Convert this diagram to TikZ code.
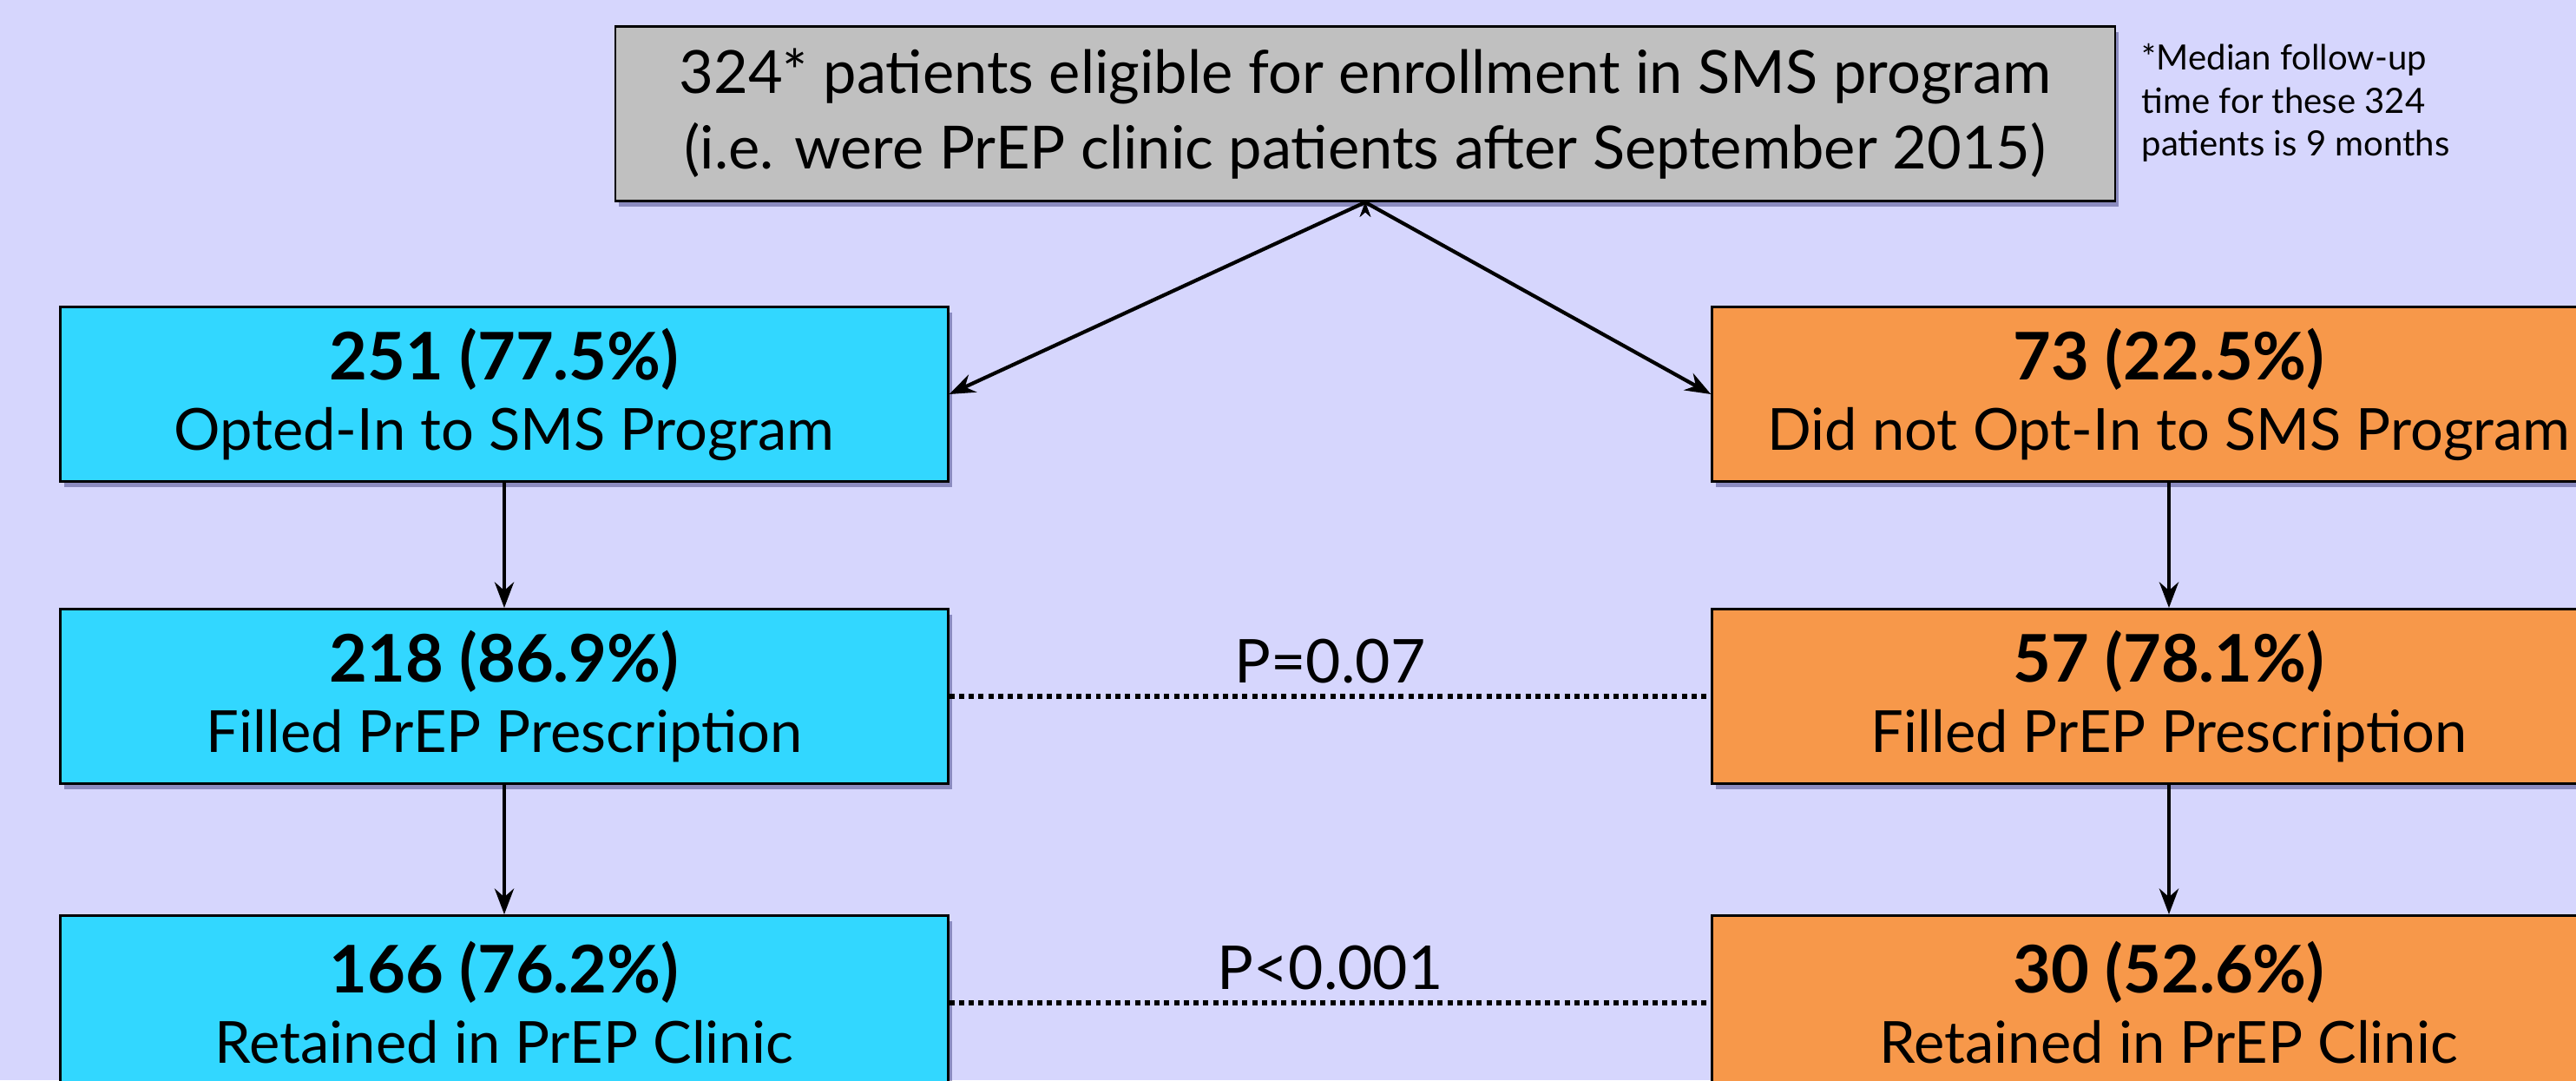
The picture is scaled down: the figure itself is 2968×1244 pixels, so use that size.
\documentclass[tikz,border=0pt]{standalone}
\usepackage{fontspec}
\setmainfont{Lato}
\usetikzlibrary{arrows.meta,positioning,shadows}
\definecolor{bglavender}{RGB}{214,214,253}
\definecolor{optcyan}{RGB}{50,215,255}
\definecolor{optorange}{RGB}{247,152,74}
\definecolor{eligray}{RGB}{192,192,192}
\newcommand{\countline}[1]{{\fontsize{21.5}{23}\selectfont\bfseries #1}}

\begin{document}
\begin{tikzpicture}[
    x=0.01cm, y=-0.01cm,
    cohort/.style={rectangle, draw, line width=0.8pt, minimum width=10.22cm, minimum height=2.01cm,
        align=center, font=\fontsize{19}{23}\selectfont,
        drop shadow={shadow xshift=1.2pt, shadow yshift=-1.8pt, fill=black!70!blue, opacity=0.35}},
    optin/.style={cohort, fill=optcyan},
    optout/.style={cohort, fill=optorange, minimum width=10.52cm},
    pvalue/.style={-, draw, line width=1.7pt, dash pattern=on 1.7pt off 1.5pt},
    ->,>=Stealth,
    every edge/.style={draw, line width=1.2pt}
]
    \fill[bglavender] (0,0) rectangle (2968,1244);
    \useasboundingbox (0,0) rectangle (2968,1244);
    \clip (0,0) rectangle (2968,1244);

    \node[cohort, fill=eligray, minimum width=17.27cm, font=\fontsize{19.5}{24.8}\selectfont] (eligible) at (1573,131)
        {324* patients eligible for enrollment in SMS program\\(i.e. were PrEP clinic patients after September 2015)};
    \node[anchor=north west, align=left, inner sep=0pt, font=\fontsize{11.4}{14}\selectfont] (note) at (2467,50)
        {*Median follow-up\\time for these 324\\patients is 9 months};

    \node[optin] (optedin) at (581,454) {\countline{251 (77.5\%)}\\Opted-In to SMS Program};
    \node[optout] (notin) at (2499,454) {\countline{73 (22.5\%)}\\Did not Opt-In to SMS Program};
    \node[optin] (filledin) at (581,802) {\countline{218 (86.9\%)}\\Filled PrEP Prescription};
    \node[optout] (fillednot) at (2499,802) {\countline{57 (78.1\%)}\\Filled PrEP Prescription};
    \node[optin] (retainin) at (581,1155) {\countline{166 (76.2\%)}\\Retained in PrEP Clinic};
    \node[optout] (retainnot) at (2499,1155) {\countline{30 (52.6\%)}\\Retained in PrEP Clinic};

    \draw (eligible.south) edge (optedin.east);
    \draw (eligible.south) edge (notin.west);
    \draw (optedin) edge (filledin);
    \draw (filledin) edge (retainin);
    \draw (notin) edge (fillednot);
    \draw (fillednot) edge (retainnot);

    \draw[pvalue] (filledin.east) -- node[above, font=\fontsize{19.8}{24}\selectfont] {P=0.07} (fillednot.west);
    \draw[pvalue] (retainin.east) -- node[above, font=\fontsize{19.8}{24}\selectfont] {P<0.001} (retainnot.west);
\end{tikzpicture}
\end{document}
